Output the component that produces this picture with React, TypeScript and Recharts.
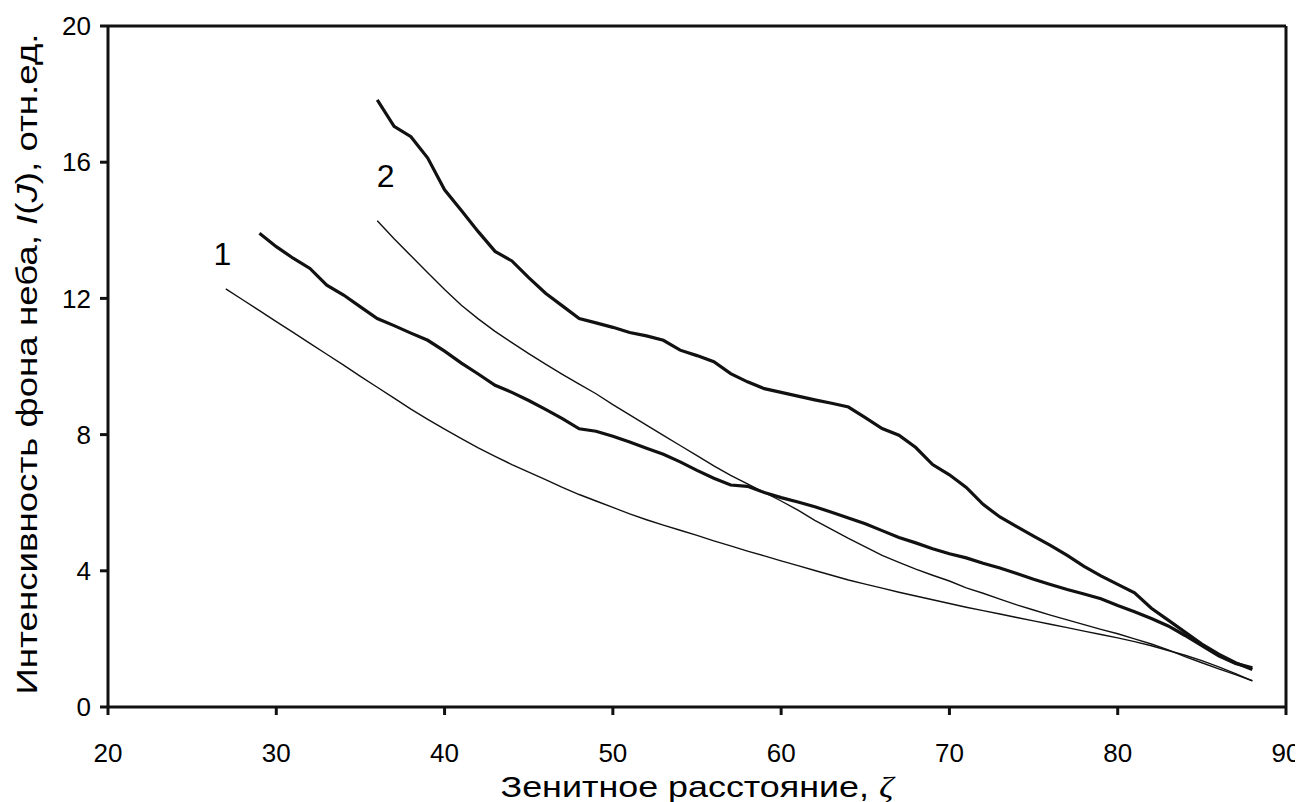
import { LineChart, Line, XAxis, YAxis, ReferenceLine, ReferenceDot, Customized } from 'recharts';

// zenith distance, degrees
const ZENITH = [
  27, 28, 29, 30, 31, 32, 33, 34, 35, 36, 37, 38, 39, 40, 41, 42, 43, 44, 45, 46, 47,
  48, 49, 50, 51, 52, 53, 54, 55, 56, 57, 58, 59, 60, 61, 62, 63, 64, 65, 66, 67, 68,
  69, 70, 71, 72, 73, 74, 75, 76, 77, 78, 79, 80, 81, 82, 83, 84, 85, 86, 87, 88,
];

// measured sky background, curve 1 (from 29 deg)
const MEASURED_1 = [
  null, null, 13.91, 13.52, 13.18, 12.88, 12.39, 12.1, 11.75, 11.41, 11.2, 10.98, 10.77,
  10.45, 10.1, 9.78, 9.45, 9.24, 9.0, 8.74, 8.47, 8.17, 8.1, 7.95, 7.78, 7.6, 7.42, 7.2,
  6.95, 6.72, 6.52, 6.48, 6.3, 6.15, 6.02, 5.88, 5.72, 5.55, 5.38, 5.18, 4.98, 4.82, 4.65,
  4.5, 4.38, 4.22, 4.08, 3.92, 3.75, 3.6, 3.45, 3.32, 3.18, 2.98, 2.8, 2.6, 2.38, 2.1, 1.8,
  1.5, 1.28, 1.15,
];

// measured sky background, curve 2 (from 36 deg)
const MEASURED_2 = [
  null, null, null, null, null, null, null, null, null,
  17.83, 17.05, 16.75, 16.12, 15.19, 14.58, 13.96, 13.38, 13.1, 12.61, 12.15, 11.78,
  11.41, 11.28, 11.15, 11.0, 10.9, 10.77, 10.48, 10.32, 10.14, 9.79, 9.55, 9.35, 9.24,
  9.13, 9.02, 8.92, 8.81, 8.5, 8.18, 7.98, 7.62, 7.12, 6.82, 6.45, 5.95, 5.58, 5.3, 5.02,
  4.75, 4.45, 4.13, 3.85, 3.6, 3.35, 2.9, 2.55, 2.2, 1.85, 1.55, 1.3, 1.1,
];

// model curve 1
const MODEL_1 = [
  12.28, 11.96, 11.64, 11.32, 11.0, 10.68, 10.36, 10.04, 9.71, 9.39, 9.07, 8.75, 8.45,
  8.16, 7.88, 7.61, 7.36, 7.12, 6.9, 6.68, 6.45, 6.24, 6.05, 5.86, 5.67, 5.5, 5.34, 5.19,
  5.04, 4.88, 4.73, 4.58, 4.44, 4.29, 4.15, 4.01, 3.87, 3.73, 3.61, 3.49, 3.37, 3.26, 3.15,
  3.04, 2.93, 2.83, 2.73, 2.63, 2.53, 2.43, 2.33, 2.23, 2.13, 2.03, 1.92, 1.8, 1.66, 1.52,
  1.36, 1.18, 0.98, 0.77,
];

// model curve 2
const MODEL_2 = [
  null, null, null, null, null, null, null, null, null,
  14.28, 13.75, 13.25, 12.75, 12.26, 11.8, 11.4, 11.03, 10.7, 10.38, 10.07, 9.77, 9.48,
  9.2, 8.88, 8.58, 8.28, 7.98, 7.68, 7.38, 7.08, 6.8, 6.55, 6.3, 6.05, 5.78, 5.48, 5.22,
  4.95, 4.7, 4.45, 4.25, 4.05, 3.87, 3.7, 3.5, 3.34, 3.17, 3.0, 2.85, 2.7, 2.56, 2.42,
  2.28, 2.15, 2.0, 1.85, 1.68, 1.48, 1.3, 1.12, 0.95, 0.77,
];

const X_TICKS = [20, 30, 40, 50, 60, 70, 80, 90];
const Y_TICKS = [0, 4, 8, 12, 16, 20];

const CURVE_LABELS = [
  { text: '1', x: 26.8, y: 13.3 },
  { text: '2', x: 36.5, y: 15.6 },
];

const chartData = ZENITH.map((z, i) => ({
  z,
  m1: MEASURED_1[i],
  m2: MEASURED_2[i],
  t1: MODEL_1[i],
  t2: MODEL_2[i],
}));

const FONT = '"Liberation Sans", Arial, Helvetica, sans-serif';
const INK = '#111';

function XTitle() {
  return (
    <text
      x={689}
      y={789}
      textAnchor="middle"
      fontSize={30}
      fontFamily={FONT}
      fill="#000"
      textLength={393}
      lengthAdjust="spacingAndGlyphs"
    >
      Зенитное расстояние, <tspan fontFamily='"Liberation Serif", "DejaVu Serif", serif' fontStyle="italic">ζ</tspan>
    </text>
  );
}

function YTitle() {
  return (
    <text
      x={29}
      y={356}
      transform="rotate(-90 29 356)"
      textAnchor="middle"
      fontSize={30}
      fontFamily={FONT}
      fill="#000"
      textLength={661}
      lengthAdjust="spacingAndGlyphs"
    >
      Интенсивность фона неба, <tspan fontStyle="italic">I</tspan>(<tspan fontStyle="italic">J</tspan>), отн.ед.
    </text>
  );
}

export default function App() {
  return (
    <div style={{ width: 1295, height: 794, fontFamily: FONT }}>
      <LineChart
        width={1295}
        height={794}
        data={chartData}
        margin={{ top: 18, right: 17, left: 0, bottom: 0 }}
      >
        <XAxis
          type="number"
          dataKey="z"
          domain={[20, 90]}
          ticks={X_TICKS}
          height={95}
          tickSize={8}
          tickMargin={29}
          stroke={INK}
          strokeWidth={3}
          tick={{ fontSize: 26, fill: '#000', fontFamily: FONT }}
        />
        <YAxis
          type="number"
          domain={[0, 20]}
          ticks={Y_TICKS}
          width={100}
          tickSize={8}
          tickMargin={9}
          stroke={INK}
          strokeWidth={3}
          tick={{ fontSize: 26, fill: '#000', fontFamily: FONT }}
        />
        <ReferenceLine y={20} stroke={INK} strokeWidth={3} />
        <ReferenceLine x={90} stroke={INK} strokeWidth={3} />
        <Line dataKey="t1" stroke={INK} strokeWidth={1.4} dot={false} isAnimationActive={false} />
        <Line dataKey="t2" stroke={INK} strokeWidth={1.4} dot={false} isAnimationActive={false} />
        <Line dataKey="m1" stroke={INK} strokeWidth={3.2} dot={false} isAnimationActive={false} />
        <Line dataKey="m2" stroke={INK} strokeWidth={3.2} dot={false} isAnimationActive={false} />
        {CURVE_LABELS.map((l) => (
          <ReferenceDot
            key={l.text}
            x={l.x}
            y={l.y}
            r={0}
            fill="none"
            stroke="none"
            label={{ value: l.text, position: 'center', fontSize: 32, fill: '#000', fontFamily: FONT }}
          />
        ))}
        <Customized component={XTitle} />
        <Customized component={YTitle} />
      </LineChart>
    </div>
  );
}
